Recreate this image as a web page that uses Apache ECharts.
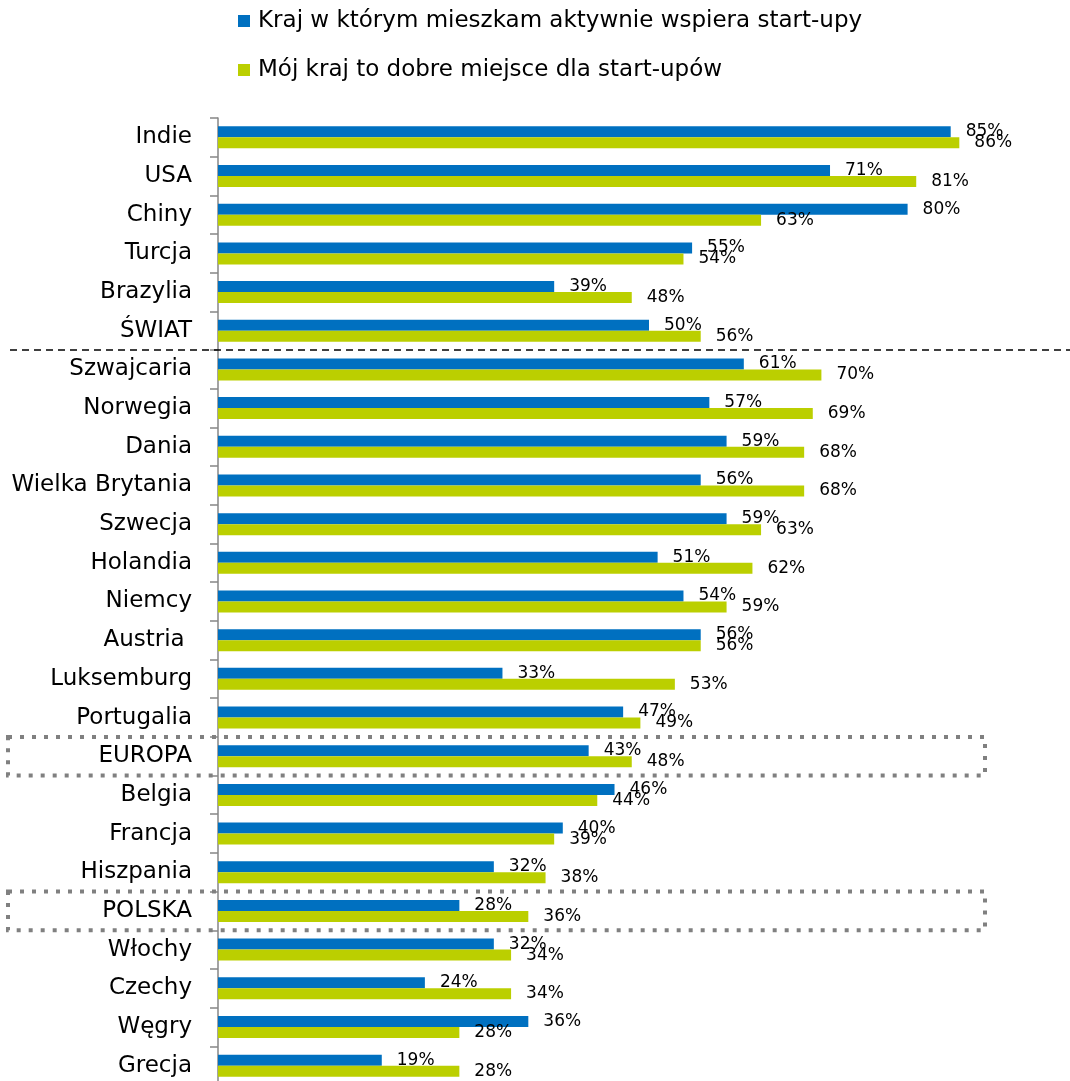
<!DOCTYPE html>
<html>
<head>
<meta charset="utf-8">
<script src="https://cdn.jsdelivr.net/npm/echarts@6/dist/echarts.min.js"></script>
<style>
  html, body { margin: 0; padding: 0; background: #fff; }
  #main { width: 1070px; height: 1081px; }
</style>
</head>
<body>
<div id="main"></div>
<script>
// data
const countries = ['Indie', 'USA', 'Chiny', 'Turcja', 'Brazylia', 'ŚWIAT', 'Szwajcaria', 'Norwegia', 'Dania',
  'Wielka Brytania', 'Szwecja', 'Holandia', 'Niemcy', 'Austria ', 'Luksemburg', 'Portugalia', 'EUROPA',
  'Belgia', 'Francja', 'Hiszpania', 'POLSKA', 'Włochy', 'Czechy', 'Węgry', 'Grecja'];
const supports = [85, 71, 80, 55, 39, 50, 61, 57, 59, 56, 59, 51, 54, 56, 33, 47, 43, 46, 40, 32, 28, 32, 24, 36, 19];
const goodPlace = [86, 81, 63, 54, 48, 56, 70, 69, 68, 68, 63, 62, 59, 56, 53, 49, 48, 44, 39, 38, 36, 34, 34, 28, 28];
const seriesNames = ['Kraj w którym mieszkam aktywnie wspiera start-upy', 'Mój kraj to dobre miejsce dla start-upów'];
const boxed = ['EUROPA', 'POLSKA'];

const font = 'DejaVu Sans';
const chartDom = document.getElementById('main');
const myChart = echarts.init(chartDom);

const label = {
  show: true,
  position: 'right',
  distance: 15,
  formatter: '{c}%',
  color: '#000',
  fontFamily: font,
  fontSize: 17
};

const option = {
  animation: false,
  legend: {
    orient: 'vertical',
    left: 233,
    top: 4,
    itemWidth: 12,
    itemHeight: 12,
    itemGap: 25,
    icon: 'rect',
    textStyle: { fontFamily: font, fontSize: 23, color: '#000', lineHeight: 24, padding: [0, 0, 0, 3] }
  },
  grid: { left: 218, top: 118, width: 862, height: 967, outerBoundsMode: 'none' },
  xAxis: { type: 'value', min: 0, max: 100, show: false },
  yAxis: {
    type: 'category',
    data: countries,
    inverse: true,
    axisLine: { lineStyle: { color: '#868686', width: 1.5 } },
    axisTick: { show: true, length: 8, lineStyle: { color: '#868686', width: 1.5 } },
    axisLabel: { margin: 26, color: '#000', fontFamily: font, fontSize: 23 }
  },
  series: [
    { name: seriesNames[0], type: 'bar', data: supports, barWidth: 11, barGap: '0%',
      itemStyle: { color: '#0070C0' }, label: label },
    { name: seriesNames[1], type: 'bar', data: goodPlace, barWidth: 11, barGap: '0%',
      itemStyle: { color: '#BBCF00' }, label: label }
  ]
};

option && myChart.setOption(option);

// decorations: dashed separator after ŚWIAT and dotted boxes around EUROPA / POLSKA
const y = (name) => myChart.convertToPixel({ yAxisIndex: 0 }, name);
const band = y(countries[1]) - y(countries[0]);
const sepY = (y('ŚWIAT') + y('Szwajcaria')) / 2;
const graphics = [{
  type: 'line',
  shape: { x1: 10, y1: sepY, x2: 1070, y2: sepY },
  style: { stroke: '#000', lineWidth: 1.5, lineDash: [7, 5] },
  z: 10
}];
boxed.forEach(function (name) {
  const cy = y(name);
  graphics.push({
    type: 'rect',
    shape: { x: 8, y: cy - band / 2, width: 977, height: band },
    style: { fill: 'none', stroke: '#808080', lineWidth: 4, lineDash: [4, 8] },
    z: 10
  });
});
myChart.setOption({ graphic: graphics });
</script>
</body>
</html>
